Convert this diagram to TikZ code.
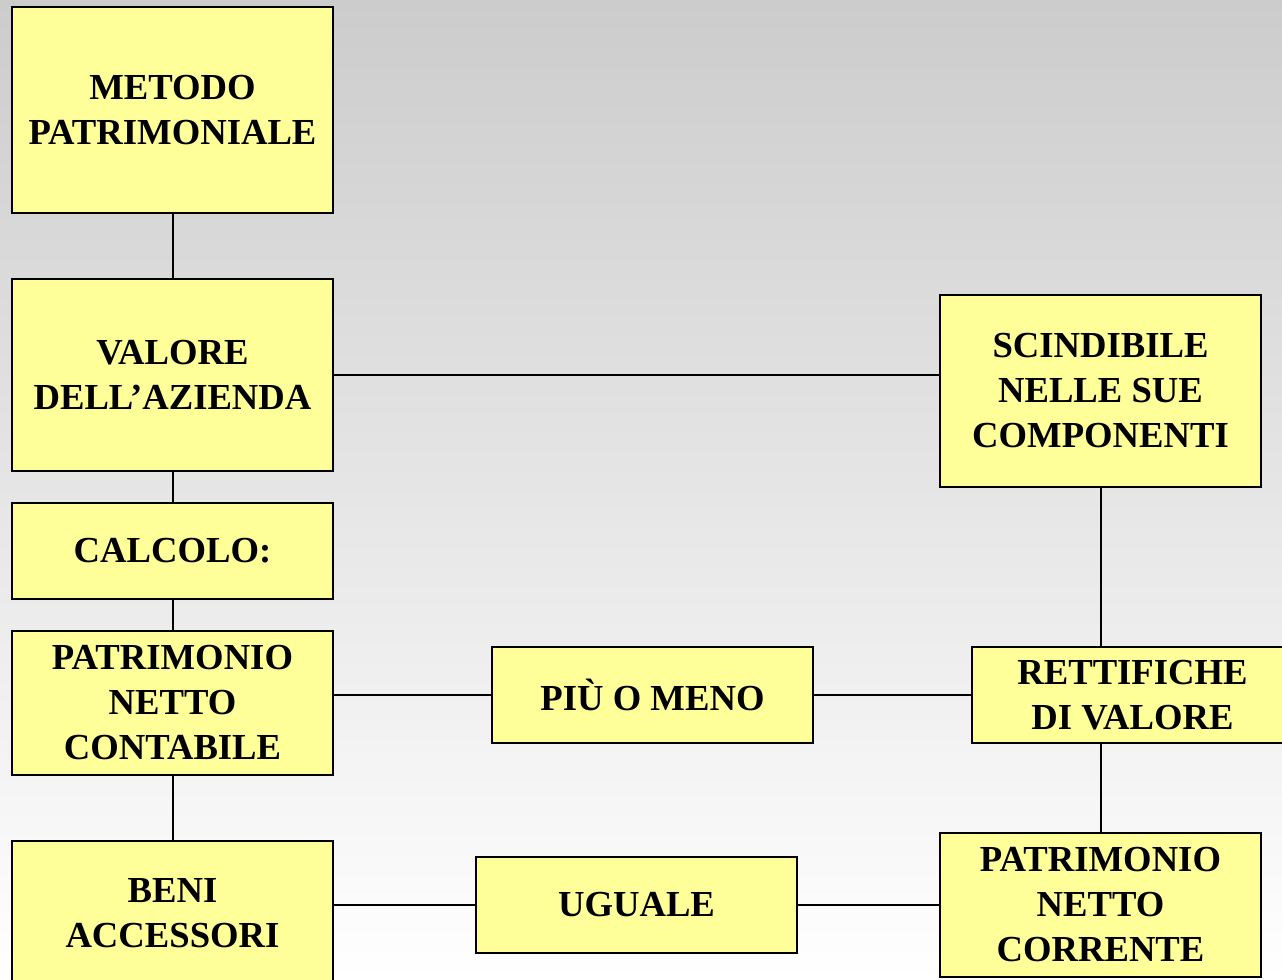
\documentclass[tikz,border=0pt]{standalone}
\usepackage{fontspec}
\setmainfont{Liberation Serif}
\usepackage{tikz}
\usetikzlibrary{shapes,arrows,shadows}
\definecolor{boxyellow}{RGB}{255,255,153}
\tikzstyle{block} = [rectangle, draw, line width=1.5pt, fill=boxyellow,
    minimum width=240.75pt, align=center, inner sep=2pt,
    font=\bfseries\fontsize{27.5}{33.75}\selectfont,
    drop shadow={shadow xshift=0.9pt, shadow yshift=-0.9pt, opacity=0.35}]
\tikzstyle{line} = [draw, line width=1.5pt]

\begin{document}
\begin{tikzpicture}[node distance = 2cm, auto]
    \useasboundingbox (0,0) rectangle (961.5pt,-734.25pt);
    \clip (0,0) rectangle (961.5pt,-734.25pt);
    \shade[top color=black!20, bottom color=white] (0,0) rectangle (961.5pt,-734.25pt);
    % Place nodes
    \node [block, minimum height=154.5pt] at (129.375pt,-82.5pt) (metodo) {METODO\\PATRIMONIALE};
    \node [block, minimum height=144pt, below of=metodo, node distance=198.75pt] (valore) {VALORE\\DELL’AZIENDA};
    \node [block, minimum height=72pt, below of=valore, node distance=132pt] (calcolo) {CALCOLO:};
    \node [block, minimum height=108pt, below of=calcolo, node distance=114pt] (contabile) {PATRIMONIO\\NETTO\\CONTABILE};
    \node [block, minimum height=108pt, below of=contabile, node distance=157.5pt] (beni) {BENI\\ACCESSORI};
    \node [block, minimum height=144pt, right of=valore, node distance=696pt, yshift=-12pt] (scindibile) {SCINDIBILE\\NELLE SUE\\COMPONENTI};
    \node [block, minimum height=72pt, right of=contabile, node distance=360pt, yshift=6pt] (piu) {PIÙ O MENO};
    \node [block, minimum height=72pt, right of=piu, node distance=360pt] (rettifiche) {RETTIFICHE\\DI VALORE};
    \node [block, minimum height=72pt, right of=beni, node distance=348pt, yshift=6pt] (uguale) {UGUALE};
    \node [block, minimum height=108pt, right of=uguale, node distance=348pt] (corrente) {PATRIMONIO\\NETTO\\CORRENTE};
    % Draw edges
    \path [line] (metodo) -- (valore);
    \path [line] (valore.east) -- (valore.east -| scindibile.west);
    \path [line] (valore) -- (calcolo);
    \path [line] (calcolo) -- (contabile);
    \path [line] (piu.west -| contabile.east) -- (piu.west);
    \path [line] (piu) -- (rettifiche);
    \path [line] (scindibile.south) -- (scindibile.south |- rettifiche.north);
    \path [line] (corrente.north |- rettifiche.south) -- (corrente.north);
    \path [line] (contabile) -- (beni);
    \path [line] (uguale.west -| beni.east) -- (uguale.west);
    \path [line] (uguale) -- (corrente);
\end{tikzpicture}
\end{document}
